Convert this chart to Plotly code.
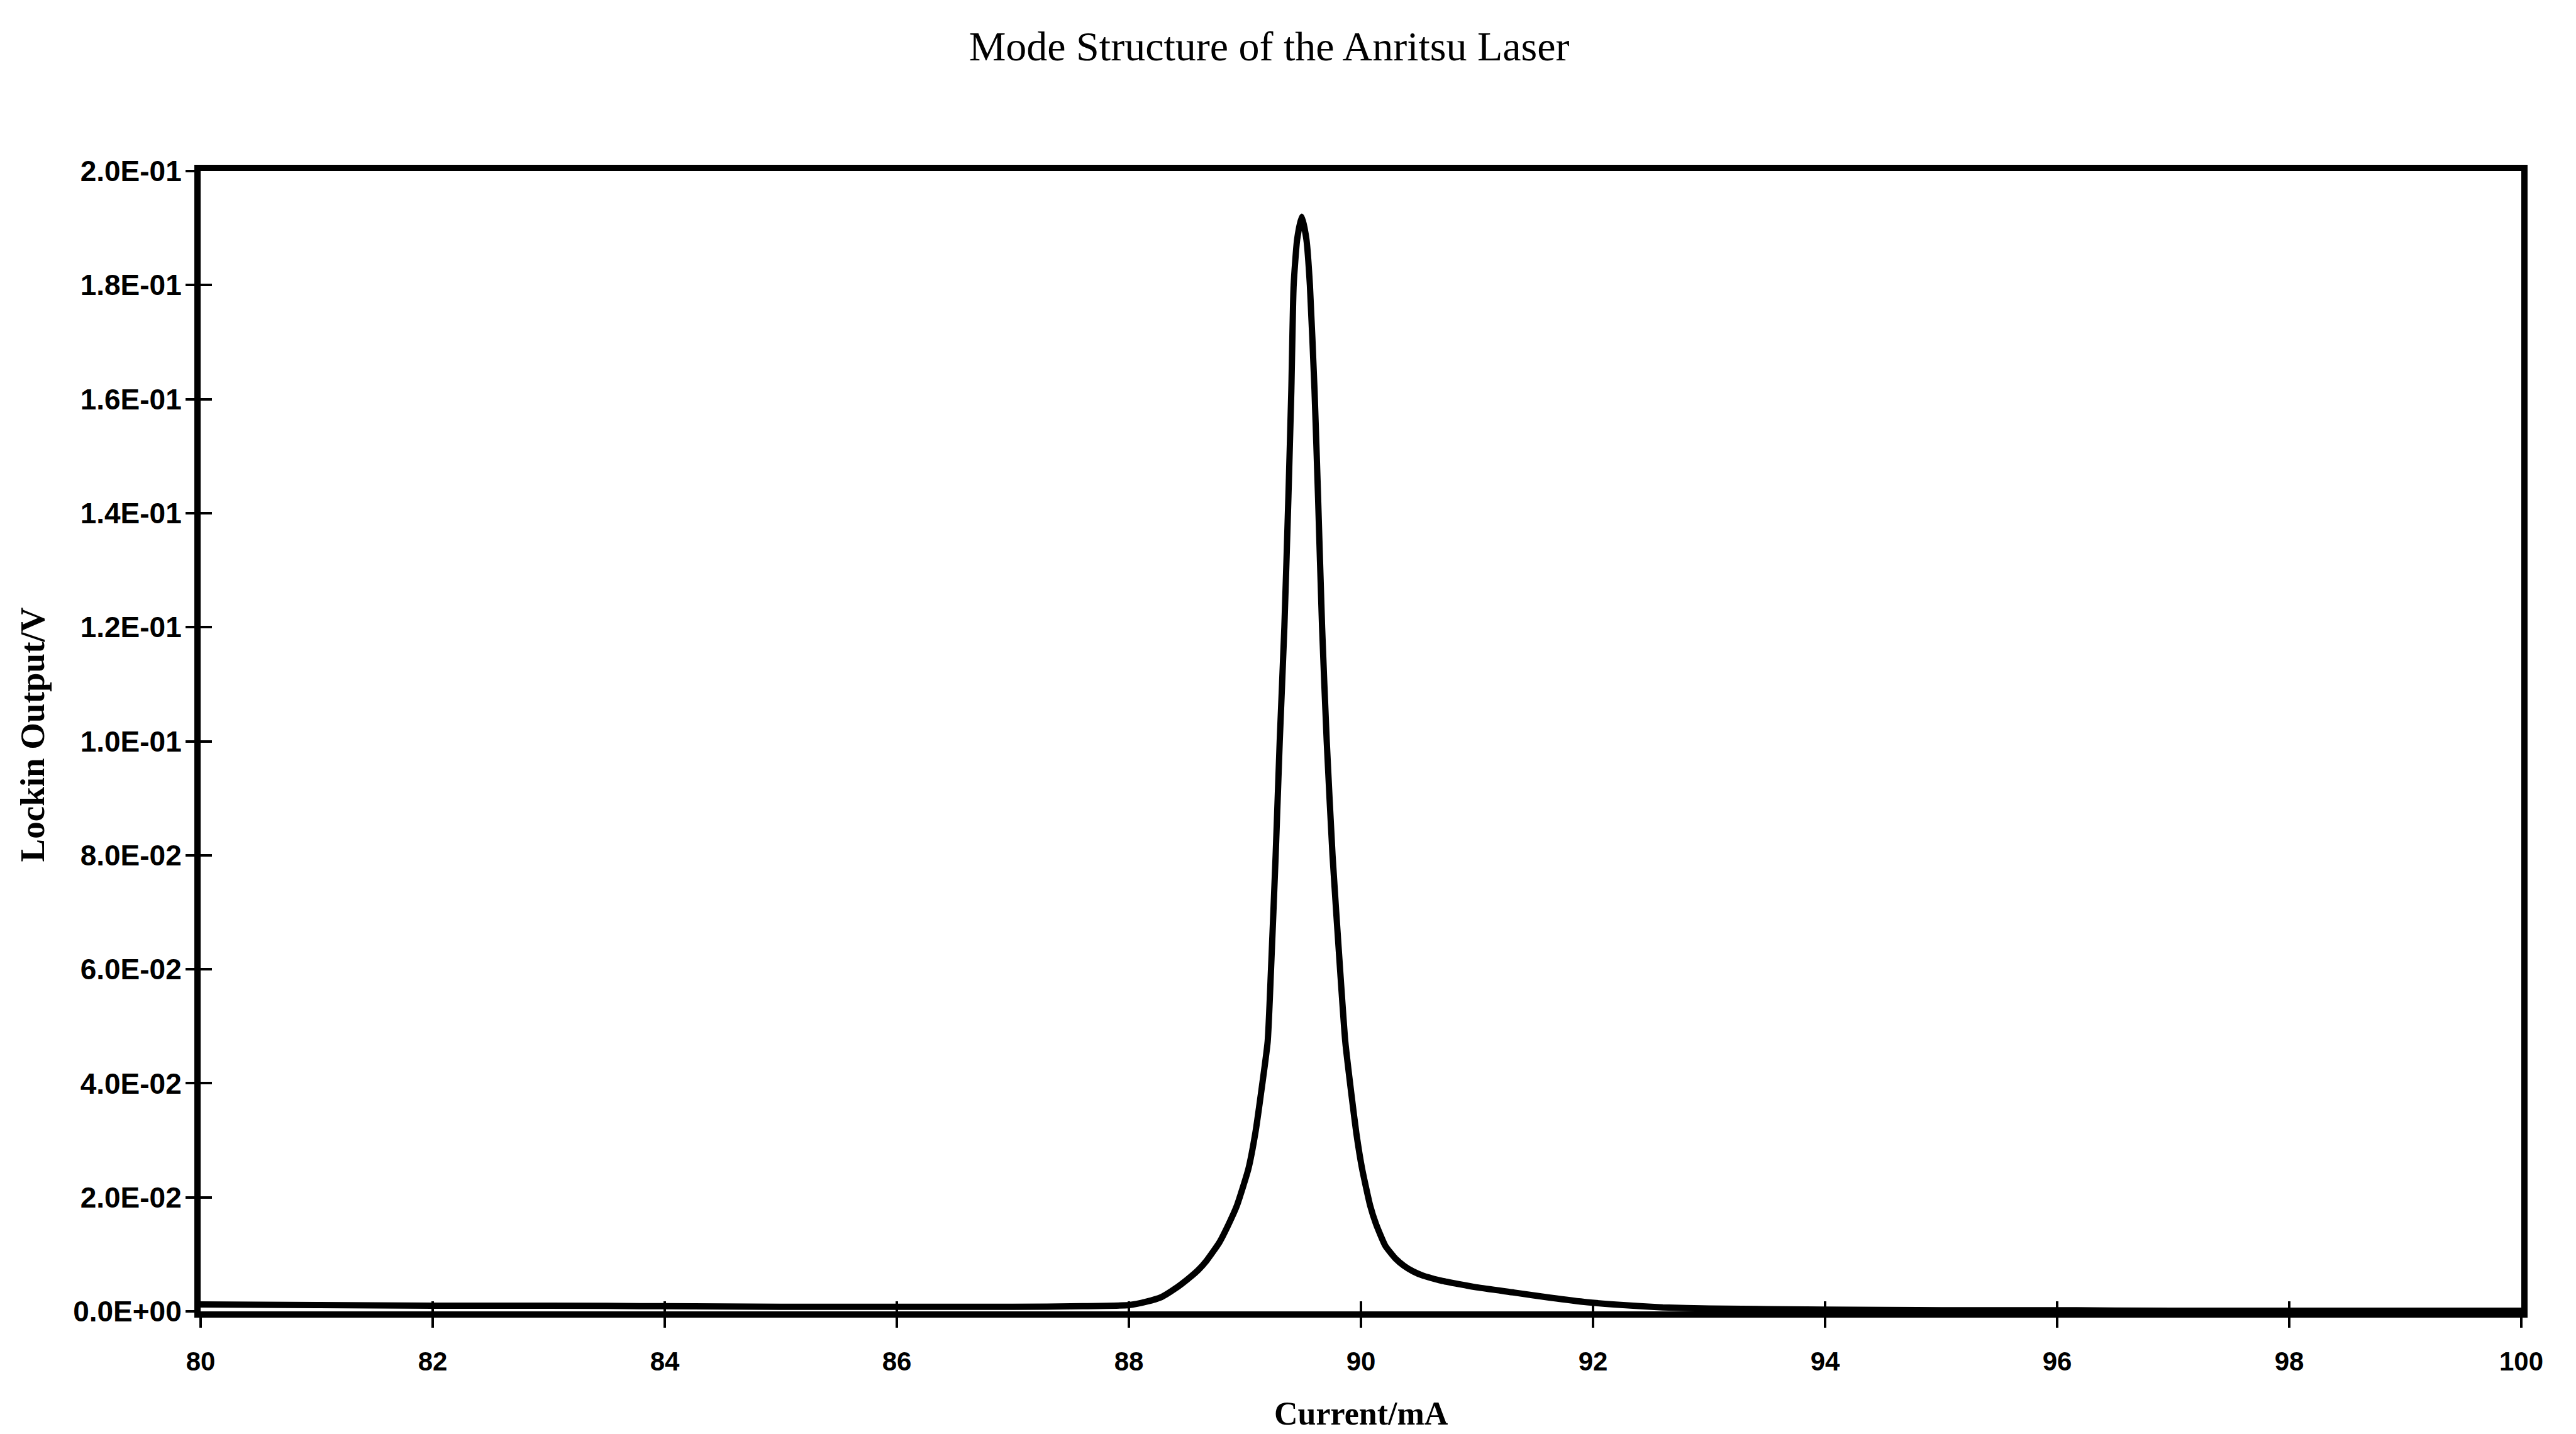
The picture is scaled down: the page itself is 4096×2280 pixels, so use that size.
import plotly.graph_objects as go

# Data
current = [80.0, 81.0, 82.0, 83.0, 84.0, 85.0, 86.0, 87.0, 87.6, 88.0,
           88.15, 88.28, 88.4, 88.51, 88.6, 88.67, 88.78, 88.86, 88.93, 89.03,
           89.09, 89.135, 89.196, 89.225, 89.265, 89.30, 89.34, 89.375, 89.40, 89.42,
           89.45, 89.49, 89.53, 89.56, 89.60, 89.63, 89.665, 89.705, 89.755, 89.82,
           89.865, 89.92, 89.96, 90.01, 90.08, 90.13, 90.21, 90.30, 90.37, 90.45,
           90.53, 90.69, 91.00, 91.32, 91.63, 91.95, 92.26, 92.6, 93.0, 94.0,
           95.0, 96.0, 97.0, 98.0, 99.0, 100.0]
lockin = [0.0012, 0.0011, 0.0010, 0.0010, 0.0009, 0.0008, 0.0008, 0.0008, 0.0009, 0.0011,
          0.0017, 0.0025, 0.0040, 0.0057, 0.0073, 0.0089, 0.0121, 0.0153, 0.0185, 0.0250,
          0.0313, 0.0377, 0.0473, 0.060, 0.080, 0.100, 0.120, 0.143, 0.1615, 0.180,
          0.188, 0.192, 0.188, 0.180, 0.1615, 0.143, 0.120, 0.100, 0.080, 0.060,
          0.0473, 0.0377, 0.0313, 0.0250, 0.0185, 0.0153, 0.0115, 0.0092, 0.0080, 0.0070,
          0.0063, 0.0054, 0.0042, 0.0033, 0.0024, 0.0016, 0.0011, 0.0007, 0.0005, 0.0003,
          0.0002, 0.0002, 0.0001, 0.0001, 0.0001, 0.0001]

x_ticks = [80, 82, 84, 86, 88, 90, 92, 94, 96, 98, 100]
y_ticks = [0.0, 0.02, 0.04, 0.06, 0.08, 0.10, 0.12, 0.14, 0.16, 0.18, 0.20]
y_tick_text = [f"{v:.1E}" for v in y_ticks]

title_text = "Mode Structure of the Anritsu Laser"
x_title = "Current/mA"
y_title = "Lockin Output/V"

W, H = 4096, 2280
L, R, T, B = 319, 87, 272, 195

fig = go.Figure()
fig.add_trace(go.Scatter(x=current, y=lockin, mode="lines",
                         line=dict(color="black", width=10, shape="spline", smoothing=0.5),
                         showlegend=False, hoverinfo="skip"))
# empty trace so the overlay axes (inside half of the cross ticks) are drawn
fig.add_trace(go.Scatter(x=[], y=[], xaxis="x2", yaxis="y2",
                         showlegend=False, hoverinfo="skip"))

fig.update_layout(
    width=W, height=H,
    margin=dict(l=L, r=R, t=T, b=B, pad=0),
    paper_bgcolor="white", plot_bgcolor="white",
    title=dict(text=title_text, x=0.4927, xref="container", xanchor="center",
               y=1 - 73 / H, yref="container", yanchor="middle",
               font=dict(family="Liberation Serif", size=66, color="black")),
    xaxis=dict(range=[80, 100], tickmode="array", tickvals=x_ticks,
               ticktext=[str(v) for v in x_ticks],
               ticks="outside", ticklen=16, tickwidth=4, tickcolor="black",
               ticklabelstandoff=18,
               showline=True, linewidth=10, linecolor="black", mirror=True,
               showgrid=False, zeroline=False,
               tickfont=dict(family="Liberation Sans", size=42, color="black", weight="bold")),
    yaxis=dict(range=[0, 0.2], tickmode="array", tickvals=y_ticks,
               ticktext=y_tick_text,
               ticks="outside", ticklen=14, tickwidth=4, tickcolor="black",
               ticklabelstandoff=-3,
               showline=True, linewidth=10, linecolor="black", mirror=True,
               showgrid=False, zeroline=False,
               tickfont=dict(family="Liberation Sans", size=46, color="black", weight="bold")),
    xaxis2=dict(range=[80, 100], overlaying="x", anchor="y2", side="bottom",
                tickmode="array", tickvals=x_ticks, showticklabels=False,
                ticks="inside", ticklen=16, tickwidth=4, tickcolor="black",
                showline=False, showgrid=False, zeroline=False),
    yaxis2=dict(range=[0, 0.2], overlaying="y", anchor="x2", side="left",
                tickmode="array", tickvals=y_ticks, showticklabels=False,
                ticks="inside", ticklen=18, tickwidth=4, tickcolor="black",
                showline=False, showgrid=False, zeroline=False),
    annotations=[
        dict(text=x_title, xref="paper", yref="paper", x=0.5, y=-0.0895,
             xanchor="center", yanchor="middle", showarrow=False,
             font=dict(family="Liberation Serif", size=52, color="black", weight="bold")),
        dict(text=y_title, xref="paper", yref="paper", x=-0.0724, y=0.506,
             xanchor="center", yanchor="middle", showarrow=False, textangle=-90,
             font=dict(family="Liberation Serif", size=55, color="black", weight="bold")),
    ],
)

fig.write_html("out.html")
